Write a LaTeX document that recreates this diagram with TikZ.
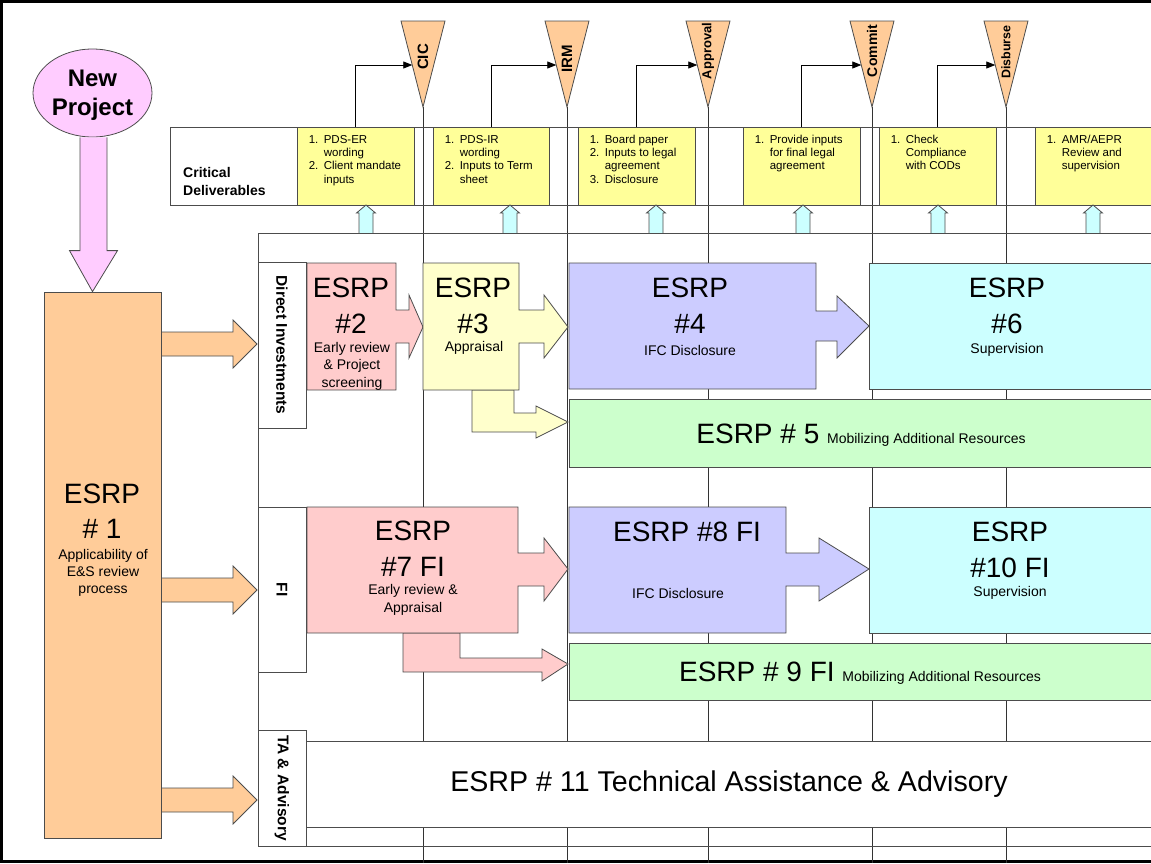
\documentclass[tikz,border=0pt]{standalone}
\usepackage{fontspec}
\setmainfont{Liberation Sans}
\usetikzlibrary{shapes.geometric,arrows.meta,calc,positioning}

\definecolor{npPink}{HTML}{FFCCFF}
\definecolor{esOrange}{HTML}{FFCC99}
\definecolor{esPink}{HTML}{FFCCCC}
\definecolor{esYellow}{HTML}{FFFFCC}
\definecolor{esPurple}{HTML}{CCCCFF}
\definecolor{esCyan}{HTML}{CCFFFF}
\definecolor{esGreen}{HTML}{CCFFCC}
\definecolor{delYellow}{HTML}{FFFF99}

% numbered list inside a deliverable box
\newcommand{\dlist}[1]{\begin{tabular}{@{}p{15pt}@{}l@{}}#1\end{tabular}}

\begin{document}
\begin{tikzpicture}[x=1pt, y=-1pt,
    every node/.style={inner sep=0pt},
    blk/.style={draw=black!70, line width=0.8pt},
    big/.style={font=\fontsize{28}{36}\selectfont, align=center},
    sub/.style={font=\fontsize{14}{17.5}\selectfont, align=center},
    lanelbl/.style={blk, fill=white, rotate=-90, minimum height=48, font=\bfseries\fontsize{15.5}{16}\selectfont},
    delbox/.style={blk, fill=delYellow, minimum width=117, minimum height=78},
    deltext/.style={font=\fontsize{11.5}{13.3}\selectfont, align=left},
    mstone/.style={-{Triangle[length=9pt,width=7pt]}, black, line width=0.8pt}]

    % Page and frame
    \useasboundingbox (0,0) rectangle (1151,863);
    \clip (0,0) rectangle (1151,863);
    \draw[line width=2.5pt] (1.5,1.5) rectangle (1200,861.5);

    % Milestone lines (behind everything)
    \foreach \mx in {423,567,708,872,1006}
        \draw[black!80, line width=0.8pt] (\mx,107) -- (\mx,863);

    % Critical deliverables band
    \draw[blk] (170,127) rectangle (1200,205);
    \node[font=\bfseries\fontsize{14}{18}\selectfont, align=left, anchor=west] (crit) at (183,181) {Critical\\Deliverables};

    \node[delbox] (del1) at (355.5,166) {};
    \node[delbox, minimum width=116] (del2) at (491,166) {};
    \node[delbox] (del3) at (636.5,166) {};
    \node[delbox] (del4) at (801.5,166) {};
    \node[delbox] (del5) at (937.5,166) {};
    \node[delbox, minimum width=130] (del6) at (1100,166) {};

    \node[deltext, below right=7pt and 12pt of del1.north west] {\dlist{1. & PDS-ER\\ & wording\\ 2. & Client mandate\\ & inputs}};
    \node[deltext, below right=7pt and 12pt of del2.north west] {\dlist{1. & PDS-IR\\ & wording\\ 2. & Inputs to Term\\ & sheet}};
    \node[deltext, below right=7pt and 12pt of del3.north west] {\dlist{1. & Board paper\\ 2. & Inputs to legal\\ & agreement\\ 3. & Disclosure}};
    \node[deltext, below right=7pt and 12pt of del4.north west] {\dlist{1. & Provide inputs\\ & for final legal\\ & agreement}};
    \node[deltext, below right=7pt and 12pt of del5.north west] {\dlist{1. & Check\\ & Compliance\\ & with CODs}};
    \node[deltext, below right=7pt and 12pt of del6.north west] {\dlist{1. & AMR/AEPR\\ & Review and\\ & supervision}};

    % Milestone triangles
    \foreach \mx/\mlabel/\mname/\msize/\my in {423/CIC/cic/15/57, 567/IRM/irm/15/59, 708/Approval/appr/13/51, 872/Commit/comm/14/51, 1006/Disburse/disb/12.5/52} {
        \filldraw[blk, fill=esOrange] (\mx-22,21) -- (\mx+22,21) -- (\mx,107) -- cycle;
        \node[rotate=90, font=\bfseries\fontsize{\msize}{\msize}\selectfont] (\mname) at (\mx,\my) {\mlabel};
        \coordinate (\mname-in) at (\mx-10.7,65);
    }

    % Deliverables feed the milestones
    \draw[mstone] (del1.north) |- (cic-in);
    \draw[mstone] (del2.north) |- (irm-in);
    \draw[mstone] (del3.north) |- (appr-in);
    \draw[mstone] (del4.north) |- (comm-in);
    \draw[mstone] (del5.north) |- (disb-in);

    % Small up arrows into the deliverables
    \foreach \ux in {366,510,656,803,938,1093}
        \filldraw[blk, fill=esCyan] (\ux-7,233) -- (\ux-7,213) -- (\ux-9.5,213) -- (\ux,205) -- (\ux+9.5,213) -- (\ux+7,213) -- (\ux+7,233);

    % Lane frame and lane labels
    \draw[blk] (1200,233) -| (258,846) -- (1200,846);
    \node[lanelbl, minimum width=166] (di) at (282,345) {Direct Investments};
    \node[lanelbl, minimum width=165] (fi) at (282,589.5) {FI};
    \node[lanelbl, minimum width=116] (ta) at (282,788) {TA \& Advisory};

    % Direct investments lane
    \filldraw[blk, fill=esPink] (307,263) -| (396,310) -| (409,295) -- (423,327) -- (409,358) |- (396,343) |- (307,390) -- cycle;
    \node[big] (es2) at (351,305.5) {ESRP\\\#2};
    \node[sub] (es2t) at (352,366) {Early review\\\& Project\\screening};

    \filldraw[blk, fill=esYellow] (514,390) |- (536,413) -- (536,406) -- (568,422) -- (536,438) -- (536,432) -| (472,390) -- cycle;
    \filldraw[blk, fill=esYellow] (423,263) -| (519,310) -| (544,295) -- (568,327) -- (544,358) |- (519,343) |- (423,390) -- cycle;
    \node[big] (es3) at (473,305.5) {ESRP\\\#3};
    \node[sub] (es3t) at (474,348) {Appraisal};

    \filldraw[blk, fill=esPurple] (569,263) -| (816,311) -| (837,296) -- (869,326) -- (837,358) |- (816,341) |- (569,389) -- cycle;
    \node[big] (es4) at (690,306) {ESRP\\\#4};
    \node[sub] (es4t) at (690,350) {IFC Disclosure};

    \filldraw[blk, fill=esCyan] (869,263) rectangle (1200,389);
    \node[big] (es6) at (1007,306) {ESRP\\\#6};
    \node[sub] (es6t) at (1007,350) {Supervision};

    \filldraw[blk, fill=esGreen] (569,399) rectangle (1200,467);
    \node (es5) at (861,435) {\fontsize{28}{30}\selectfont ESRP \# 5 \fontsize{14}{16}\selectfont Mobilizing Additional Resources};

    % FI lane
    \filldraw[blk, fill=esPink] (460,633) |- (542,658) -- (542,649) -- (568,664) -- (542,681) -- (542,672) -| (403,633) -- cycle;
    \filldraw[blk, fill=esPink] (307,507) -| (518,553) -| (544,538) -- (568,569) -- (544,601) |- (518,586) |- (307,633) -- cycle;
    \node[big] (es7) at (413,549) {ESRP\\\#7 FI};
    \node[sub] (es7t) at (413,600) {Early review \&\\Appraisal};

    \filldraw[blk, fill=esPurple] (569,507) -| (786,553) -| (819,538) -- (869,569) -- (819,601) |- (786,586) |- (569,633) -- cycle;
    \node[big] (es8) at (687,532) {ESRP \#8 FI};
    \node[sub] (es8t) at (678,593) {IFC Disclosure};

    \filldraw[blk, fill=esCyan] (869,507) rectangle (1200,633);
    \node[big] (es10) at (1010,549.5) {ESRP\\\#10 FI};
    \node[sub] (es10t) at (1010,593) {Supervision};

    \filldraw[blk, fill=esGreen] (569,643) rectangle (1200,700);
    \node (es9) at (860,673) {\fontsize{28}{30}\selectfont ESRP \# 9 FI \fontsize{14}{16}\selectfont Mobilizing Additional Resources};

    % TA lane
    \filldraw[blk, fill=white] (306,741) rectangle (1200,827);
    \node[font=\fontsize{28.6}{30}\selectfont] (es11) at (729,784) {ESRP \# 11 Technical Assistance \& Advisory};

    % Orange arrows from ESRP #1 into the lanes
    \foreach \ay in {344,590,800}
        \filldraw[blk, fill=esOrange] (161,\ay-12) -- (233,\ay-12) -- (233,\ay-24) -- (257,\ay) -- (233,\ay+24) -- (233,\ay+12) -- (161,\ay+12);

    % ESRP #1 and the new project
    \node[blk, fill=esOrange, minimum width=117, minimum height=546] (esrp1) at (102.5,565) {};
    \node[big, font=\fontsize{28}{35}\selectfont] (es1) at (102,511) {ESRP\\\# 1};
    \node[sub, font=\fontsize{14}{17}\selectfont] (es1t) at (103,573) {Applicability of\\E\&S review\\process};

    \node[blk, ellipse, fill=npPink, minimum width=119, minimum height=88, text depth=0pt, font=\bfseries\fontsize{24}{29}\selectfont, align=center] (newproj) at (92.5,93) {New\\Project};
    \coordinate (npTip) at (newproj.south |- esrp1.north);
    \filldraw[blk, fill=npPink] ($(newproj.south)+(-12.5,0)$) |- ($(npTip)+(-23,-41)$) -- (npTip) -- ($(npTip)+(25,-41)$) -| ($(newproj.south)+(14.5,0)$);

\end{tikzpicture}
\end{document}
